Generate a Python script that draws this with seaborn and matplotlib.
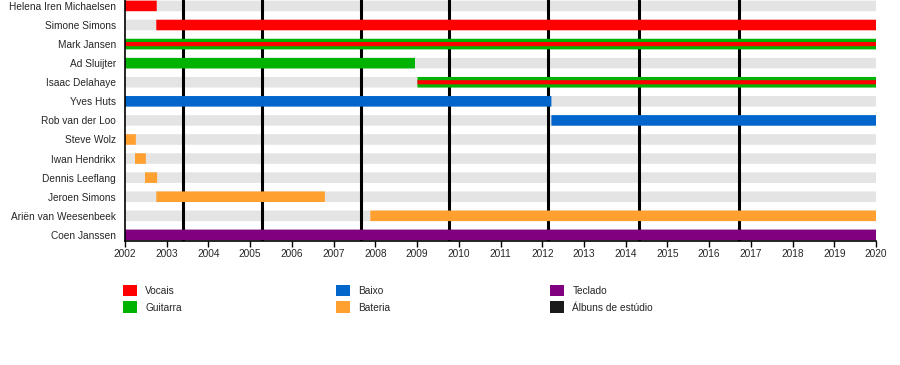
import matplotlib
matplotlib.use("Agg")
import matplotlib.pyplot as plt
from matplotlib.patches import Patch
import numpy as np
import pandas as pd
import seaborn as sns

# band members, top to bottom
members = ["Helena Iren Michaelsen", "Simone Simons", "Mark Jansen", "Ad Sluijter",
           "Isaac Delahaye", "Yves Huts", "Rob van der Loo", "Steve Wolz",
           "Iwan Hendrikx", "Dennis Leeflang", "Jeroen Simons",
           "Ariën van Weesenbeek", "Coen Janssen"]

# one entry per stint: member, role, start, end
seg_member = ["Helena Iren Michaelsen", "Simone Simons", "Mark Jansen", "Ad Sluijter",
              "Isaac Delahaye", "Yves Huts", "Rob van der Loo", "Steve Wolz",
              "Iwan Hendrikx", "Dennis Leeflang", "Jeroen Simons",
              "Ariën van Weesenbeek", "Coen Janssen"]
seg_role = ["Vocais", "Vocais", "Guitarra", "Guitarra", "Guitarra", "Baixo", "Baixo",
            "Bateria", "Bateria", "Bateria", "Bateria", "Bateria", "Teclado"]
seg_start = [2002.0, 2002.75, 2002.0, 2002.0, 2009.01, 2002.0, 2012.22,
             2002.0, 2002.24, 2002.48, 2002.75, 2007.88, 2002.0]
seg_end = [2002.76, 2020.0, 2020.0, 2008.95, 2020.0, 2012.22, 2020.0,
           2002.26, 2002.5, 2002.77, 2006.79, 2020.0, 2020.0]

# secondary role drawn as a thin stripe inside the main bar
stripe_member = ["Mark Jansen", "Isaac Delahaye"]
stripe_role = ["Vocais", "Vocais"]
stripe_start = [2002.0, 2009.01]
stripe_end = [2020.0, 2020.0]

albums = [2003.40, 2005.28, 2007.65, 2009.76, 2012.14, 2014.32, 2016.71]
years = list(range(2002, 2021))

colors = {"Vocais": "#ff0000", "Guitarra": "#00b300", "Baixo": "#0066cc",
          "Bateria": "#ffa030", "Teclado": "#800080", "Álbuns de estúdio": "#1a1a1a"}
legend_cols = [["Vocais", "Guitarra"], ["Baixo", "Bateria"], ["Teclado", "Álbuns de estúdio"]]


def to_long(mem, role, start, end):
    rows = []
    for i, (m, r, s, e) in enumerate(zip(mem, role, start, end)):
        y = members.index(m)
        rows.append(dict(seg=i, x=s, row=y, role=r))
        rows.append(dict(seg=i, x=e, row=y, role=r))
    return pd.DataFrame(rows)


sns.set_style("white")
plt.rcParams["font.family"] = ["Liberation Sans", "DejaVu Sans"]

fig = plt.figure(figsize=(9, 3.65), dpi=100)
ax = fig.add_axes([125 / 900, 124 / 365, 751 / 900, 241 / 365])

bar_lw = 7.6

# grey background lanes
bg = to_long(members, ["bg"] * len(members), [years[0]] * len(members), [years[-1]] * len(members))
sns.lineplot(data=bg, x="x", y="row", units="seg", estimator=None, color="#e4e4e4",
             lw=bar_lw, solid_capstyle="butt", sort=False, legend=False, ax=ax,
             zorder=1, snap=False)

for a in albums:
    ax.axvline(a, color="black", lw=2.2, zorder=2)

segs = to_long(seg_member, seg_role, seg_start, seg_end)
sns.lineplot(data=segs, x="x", y="row", hue="role", units="seg", estimator=None,
             palette=colors, lw=bar_lw, solid_capstyle="butt", sort=False,
             legend=False, ax=ax, zorder=3, snap=False)

stripes = to_long(stripe_member, stripe_role, stripe_start, stripe_end)
sns.lineplot(data=stripes, x="x", y="row", hue="role", units="seg", estimator=None,
             palette=colors, lw=3.0, solid_capstyle="butt", sort=False,
             legend=False, ax=ax, zorder=4, snap=False)

ax.set_xlim(2002, 2020)
ax.set_ylim(12.32, -0.31)
ax.set_xticks(years)
ax.set_xticklabels([str(y) for y in years], fontsize=7.3)
ax.set_yticks(range(len(members)))
ax.set_yticklabels(members, fontsize=7.3)
ax.set_xlabel("")
ax.set_ylabel("")
ax.tick_params(axis="x", direction="out", length=4.5, width=1, color="black", pad=1.2, bottom=True)
ax.tick_params(axis="y", length=0, pad=6.5)
for side in ["top", "right"]:
    ax.spines[side].set_visible(False)
for side in ["left", "bottom"]:
    ax.spines[side].set_color("black")
    ax.spines[side].set_linewidth(1.2)
    ax.spines[side].set_zorder(5)

leg_x = [123 / 900, 336 / 900, 550 / 900]
for lx, col in zip(leg_x, legend_cols):
    handles = [Patch(facecolor=colors[k], edgecolor="none", label=k) for k in col]
    fig.legend(handles=handles, loc="upper left", bbox_to_anchor=(lx, 1 - 285 / 365),
               frameon=False, fontsize=7.3, handlelength=1.35, handleheight=1.35,
               handletextpad=0.85, labelspacing=0.5, borderpad=0, borderaxespad=0)

fig.savefig("out.png", dpi=100)
